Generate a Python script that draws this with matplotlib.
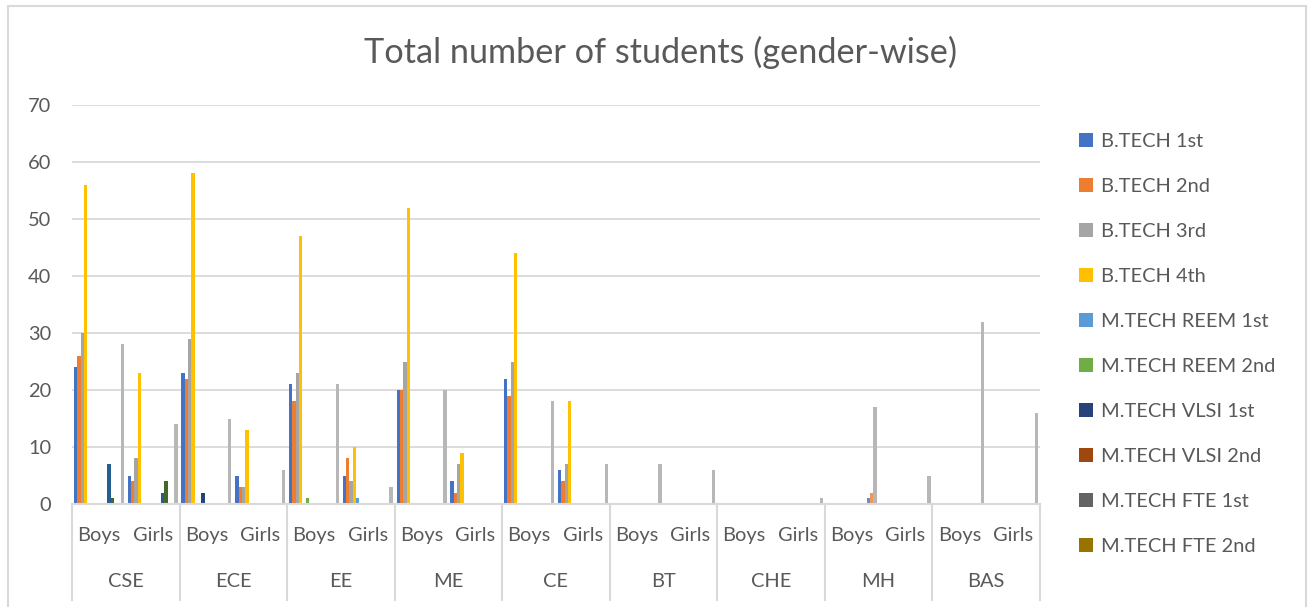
import numpy as np
import matplotlib
matplotlib.use('Agg')
import matplotlib.pyplot as plt
from matplotlib.patches import Rectangle

plt.rcParams['font.family'] = ['Lato', 'DejaVu Sans']

depts = ['CSE', 'ECE', 'EE', 'ME', 'CE', 'BT', 'CHE', 'MH', 'BAS']
genders = ['Boys', 'Girls']

series_names = ['B.TECH 1st', 'B.TECH 2nd', 'B.TECH 3rd', 'B.TECH 4th',
                'M.TECH REEM 1st', 'M.TECH REEM 2nd', 'M.TECH VLSI 1st',
                'M.TECH VLSI 2nd', 'M.TECH FTE 1st', 'M.TECH FTE 2nd',
                'series 11', 'series 12', 'series 13', 'series 14', 'series 15']
colors = ['#4472C4', '#ED7D31', '#A5A5A5', '#FFC000', '#5B9BD5', '#70AD47',
          '#264478', '#9E480E', '#636363', '#997300',
          '#255E91', '#43682B', '#698ED0', '#F1975A', '#B7B7B7']

# values per series, order: CSE B/G, ECE B/G, EE B/G, ME B/G, CE B/G, BT B/G, CHE B/G, MH B/G, BAS B/G
btech1 = [24, 5, 23, 5, 21, 5, 20, 4, 22, 6, 0, 0, 0, 0, 0, 0, 0, 0]
btech2 = [26, 4, 22, 3, 18, 8, 20, 2, 19, 4, 0, 0, 0, 0, 0, 0, 0, 0]
btech3 = [30, 8, 29, 3, 23, 4, 25, 7, 25, 7, 0, 0, 0, 0, 0, 0, 0, 0]
btech4 = [56, 23, 58, 13, 47, 10, 52, 9, 44, 18, 0, 0, 0, 0, 0, 0, 0, 0]
reem1 = [0, 0, 0, 0, 0, 1, 0, 0, 0, 0, 0, 0, 0, 0, 0, 0, 0, 0]
reem2 = [0, 0, 0, 0, 1, 0, 0, 0, 0, 0, 0, 0, 0, 0, 0, 0, 0, 0]
vlsi1 = [0, 0, 2, 0, 0, 0, 0, 0, 0, 0, 0, 0, 0, 0, 0, 0, 0, 0]
vlsi2 = [0] * 18
fte1 = [0] * 18
fte2 = [0] * 18
s11 = [7, 2, 0, 0, 0, 0, 0, 0, 0, 0, 0, 0, 0, 0, 0, 0, 0, 0]
s12 = [1, 4, 0, 0, 0, 0, 0, 0, 0, 0, 0, 0, 0, 0, 0, 0, 0, 0]
s13 = [0, 0, 0, 0, 0, 0, 0, 0, 0, 0, 0, 0, 0, 0, 1, 0, 0, 0]
s14 = [0, 0, 0, 0, 0, 0, 0, 0, 0, 0, 0, 0, 0, 0, 2, 0, 0, 0]
s15 = [28, 14, 15, 6, 21, 3, 20, 0, 18, 7, 7, 6, 0, 1, 17, 5, 32, 16]

allseries = [btech1, btech2, btech3, btech4, reem1, reem2, vlsi1, vlsi2,
             fte1, fte2, s11, s12, s13, s14, s15]

txtcol = '#595959'
gridcol = '#D9D9D9'

W, H = 1312, 607
fig = plt.figure(figsize=(W / 100, H / 100), dpi=100)
ax = fig.add_axes([72 / W, (H - 504) / H, (1040 - 72) / W, (504 - 105) / H])

ncat = len(depts) * len(genders)
x = np.arange(ncat) + 0.5
nser = len(allseries)
bw = 0.062
start = -0.5 + (1 - nser * bw) / 2
handles = []
for i, (vals, c) in enumerate(zip(allseries, colors)):
    b = ax.bar(x + start + (i + 0.5) * bw, vals, width=bw, color=c, linewidth=0)
    handles.append(b)

ax.set_xlim(0, ncat)
ax.set_ylim(0, 70)
ax.set_yticks(range(0, 71, 10))
ax.yaxis.grid(True, color=gridcol, linewidth=1.3)
ax.set_axisbelow(True)
for s in ['left', 'right', 'top']:
    ax.spines[s].set_visible(False)
ax.spines['bottom'].set_color(gridcol)
ax.spines['bottom'].set_linewidth(1.5)
ax.tick_params(axis='y', length=0, pad=15, labelsize=14.4, labelcolor=txtcol)
ax.set_xticks([])

trans = ax.get_xaxis_transform()
for k, d in enumerate(depts):
    for j, g in enumerate(genders):
        ax.text(2 * k + j + 0.5, -0.078, g, transform=trans, ha='center', va='center',
                fontsize=14.4, color=txtcol)
    ax.text(2 * k + 1, -0.193, d, transform=trans, ha='center', va='center',
            fontsize=14.4, color=txtcol)
for k in range(len(depts) + 1):
    ax.plot([2 * k, 2 * k], [0, -0.24], transform=trans, color=gridcol,
            linewidth=1.5, clip_on=False)

fig.text(660 / W, (H - 52) / H, 'Total number of students (gender-wise)',
         ha='center', va='center', fontsize=24.7, color=txtcol)

fig.legend(handles[:10], series_names[:10], loc='upper left',
           bbox_to_anchor=(1061 / W, (H - 115) / H), frameon=False,
           fontsize=14.4, handlelength=0.7, handleheight=0.7, handletextpad=0.4,
           labelspacing=1.4, labelcolor=txtcol)

fig.patches.append(Rectangle((8 / W, -0.01), (1306 - 8) / W, (H - 6) / H + 0.01,
                             transform=fig.transFigure, fill=False,
                             edgecolor=gridcol, linewidth=1.5))

plt.savefig('out.png', dpi=100)
